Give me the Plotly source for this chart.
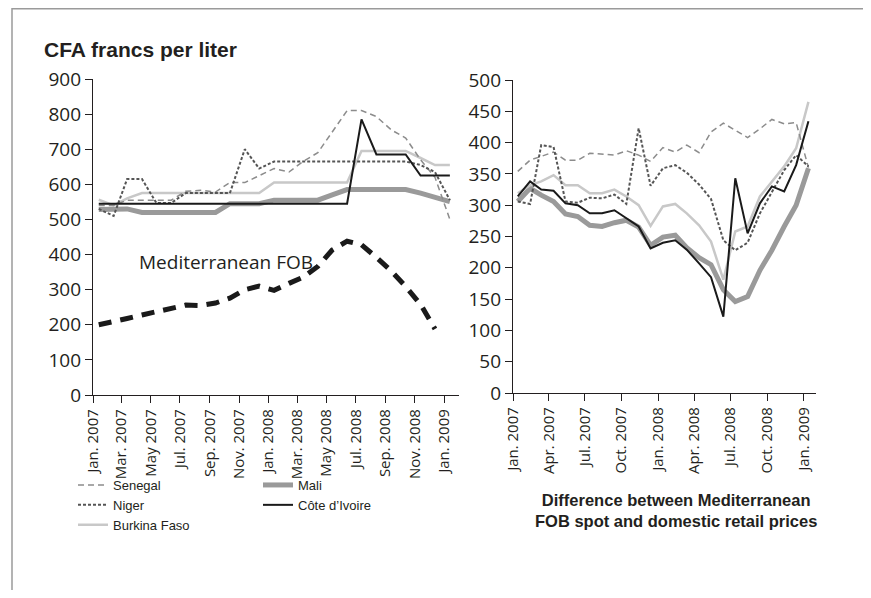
import pandas as pd
import plotly.graph_objects as go

# --- data ---
months = pd.date_range("2007-01-01", "2009-01-01", freq="MS")
x_mid = months + pd.Timedelta(days=12)  # points sit mid-month

# left: domestic retail prices, CFA francs per liter
senegal_price = [540, 540, 555, 555, 555, 555, 580, 583, 578, 605, 605, 625, 645,
                 635, 665, 690, 750, 810, 810, 793, 755, 732, 670, 620, 500]
niger_price = [530, 510, 615, 615, 547, 547, 575, 575, 575, 575, 700, 645, 665,
               665, 665, 665, 665, 665, 665, 665, 665, 665, 655, 635, 555]
burkina_price = [556, 540, 560, 575, 575, 575, 575, 575, 575, 575, 575, 575, 605,
                 605, 605, 605, 605, 605, 695, 695, 695, 695, 675, 655, 655]
mali_price = [528, 530, 530, 520, 520, 520, 520, 520, 520, 545, 545, 545, 555,
              555, 555, 555, 570, 585, 585, 585, 585, 585, 575, 563, 551]
civ_price = [545, 545, 545, 545, 545, 545, 545, 545, 545, 545, 545, 545, 545,
             545, 545, 545, 545, 545, 785, 685, 685, 685, 625, 625, 625]
fob_price = [200, 208, 218, 228, 238, 247, 256, 255, 262, 276, 300, 310, 298,
             318, 335, 366, 413, 438, 428, 392, 353, 309, 258, 188]

# right: domestic retail minus Mediterranean FOB spot
senegal_gap = [354, 372, 378, 385, 372, 372, 383, 382, 380, 387, 380, 370, 392,
               385, 396, 384, 417, 431, 420, 408, 422, 437, 430, 432, 360]
niger_gap = [306, 302, 396, 393, 306, 304, 312, 311, 317, 302, 423, 331, 359,
             364, 352, 333, 310, 244, 228, 240, 287, 320, 356, 380, 362]
burkina_gap = [319, 332, 338, 348, 332, 332, 319, 319, 325, 314, 300, 267, 298,
               302, 287, 268, 242, 181, 258, 266, 314, 337, 362, 391, 465]
mali_gap = [306, 327, 316, 306, 286, 282, 268, 266, 272, 276, 265, 236, 249,
            252, 232, 216, 205, 165, 146, 154, 196, 228, 266, 300, 359]
civ_gap = [314, 338, 325, 323, 303, 300, 287, 287, 292, 279, 266, 231, 240,
           244, 229, 207, 185, 122, 343, 255, 303, 330, 322, 364, 434]

left_tickvals = pd.date_range("2007-01-01", "2009-01-01", freq="2MS")
left_ticktext = ["Jan. 2007", "Mar. 2007", "May 2007", "Jul. 2007", "Sep. 2007",
                 "Nov. 2007", "Jan. 2008", "Mar. 2008", "May 2008", "Jul. 2008",
                 "Sep. 2008", "Nov. 2008", "Jan. 2009"]
right_tickvals = pd.date_range("2007-01-01", "2009-01-01", freq="3MS")
right_ticktext = ["Jan. 2007", "Apr. 2007", "Jul. 2007", "Oct. 2007", "Jan. 2008",
                  "Apr. 2008", "Jul. 2008", "Oct. 2008", "Jan. 2009"]

# the page body keeps its 8px margin, so the figure is 16px smaller than the window
OFF = 8
W, H = 871 - 2 * OFF, 598 - 2 * OFF
INK = "#231f20"
TICK_FONT = "Open Sans, DejaVu Sans, sans-serif"
SANS = "Liberation Sans, Arial, sans-serif"


def px(x):
    """window pixel (from left) -> paper fraction"""
    return (x - OFF) / W


def py(y):
    """window pixel (from top) -> paper fraction"""
    return (H - (y - OFF)) / H


# style per country: (name, colour, width, dash, legend)
styles = [
    ("Senegal", "#8c8c8c", 1.5, "6px,4px", "legend"),
    ("Niger", "#555555", 2, "3px,2px", "legend"),
    ("Burkina Faso", "#c8c8c8", 2.5, "solid", "legend"),
    ("Mali", "#9a9a9a", 5, "solid", "legend2"),
    ("Côte d’Ivoire", "#1a1a1a", 2, "solid", "legend2"),
]
left_series = [senegal_price, niger_price, burkina_price, mali_price, civ_price]
right_series = [senegal_gap, niger_gap, burkina_gap, mali_gap, civ_gap]

fig = go.Figure()

# draw order: thick Mali under the thinner lines
order = [3, 2, 0, 1, 4]
for i in order:
    name, col, w, dash, leg = styles[i]
    fig.add_trace(go.Scatter(
        x=x_mid, y=left_series[i], name=name, mode="lines",
        line=dict(color=col, width=w, dash=dash),
        legend=leg, legendrank=i, xaxis="x", yaxis="y"))

fig.add_trace(go.Scatter(
    x=x_mid[:len(fob_price)], y=fob_price, name="Mediterranean FOB", mode="lines",
    line=dict(color="#1a1a1a", width=5, dash="13px,9px"),
    showlegend=False, xaxis="x", yaxis="y"))

for i in order:
    name, col, w, dash, leg = styles[i]
    fig.add_trace(go.Scatter(
        x=x_mid, y=right_series[i], name=name, mode="lines",
        line=dict(color=col, width=w, dash=dash),
        showlegend=False, xaxis="x2", yaxis="y2"))

axis_common = dict(showline=True, linecolor=INK, linewidth=1.3, ticks="outside",
                   ticklen=7, tickcolor=INK, tickwidth=1.2, showgrid=False,
                   zeroline=False, automargin=False)
xrange = ["2007-01-01", "2009-02-01"]

legend_style = dict(yanchor="top", xanchor="left", itemwidth=30, tracegroupgap=0,
                    bgcolor="rgba(0,0,0,0)",
                    font=dict(family=SANS, size=13, color=INK))

fig.update_layout(
    width=W, height=H,
    margin=dict(l=0, r=0, t=0, b=0),
    paper_bgcolor="white", plot_bgcolor="white",
    font=dict(family=TICK_FONT, color=INK),
    xaxis=dict(domain=[px(93), px(459)], range=xrange, type="date",
               tickvals=left_tickvals, ticktext=left_ticktext, tickangle=-90,
               tickfont=dict(size=15), anchor="y", **axis_common),
    yaxis=dict(domain=[py(395), py(79)], range=[0, 900], dtick=100,
               tickfont=dict(size=19), anchor="x", **axis_common),
    xaxis2=dict(domain=[px(513), px(816)], range=xrange, type="date",
                tickvals=right_tickvals, ticktext=right_ticktext, tickangle=-90,
                tickfont=dict(size=15), anchor="y2", **axis_common),
    yaxis2=dict(domain=[py(393), py(80)], range=[0, 500], dtick=50,
                tickfont=dict(size=19), anchor="x2", **axis_common),
    legend=dict(x=px(73), y=py(470), **legend_style),
    legend2=dict(x=px(258), y=py(470), **legend_style),
)

fig.add_annotation(text="CFA francs per liter", xref="paper", yref="paper",
                   x=px(42), y=py(50), xanchor="left", yanchor="middle",
                   showarrow=False,
                   font=dict(family=SANS, size=21, weight="bold", color=INK))
fig.add_annotation(text="Mediterranean FOB", xref="x", yref="y",
                   x="2007-10-05", y=380, xanchor="center", yanchor="middle",
                   showarrow=False, font=dict(family=TICK_FONT, size=19, color=INK))
fig.add_annotation(text="Difference between Mediterranean<br>FOB spot and domestic retail prices",
                   xref="paper", yref="paper", x=px(676), y=py(510),
                   xanchor="center", yanchor="middle", showarrow=False,
                   font=dict(family=SANS, size=16.5, weight="bold", color=INK))

# the grey frame round the exhibit (left and top edges)
fig.add_shape(type="line", xref="paper", yref="paper", x0=px(12), x1=px(12),
              y0=0, y1=1, line=dict(color="#9a9a9a", width=1.5))
fig.add_shape(type="line", xref="paper", yref="paper", x0=px(12), x1=1,
              y0=py(8.7), y1=py(8.7), line=dict(color="#9a9a9a", width=1.5))

fig.write_html("out.html")
